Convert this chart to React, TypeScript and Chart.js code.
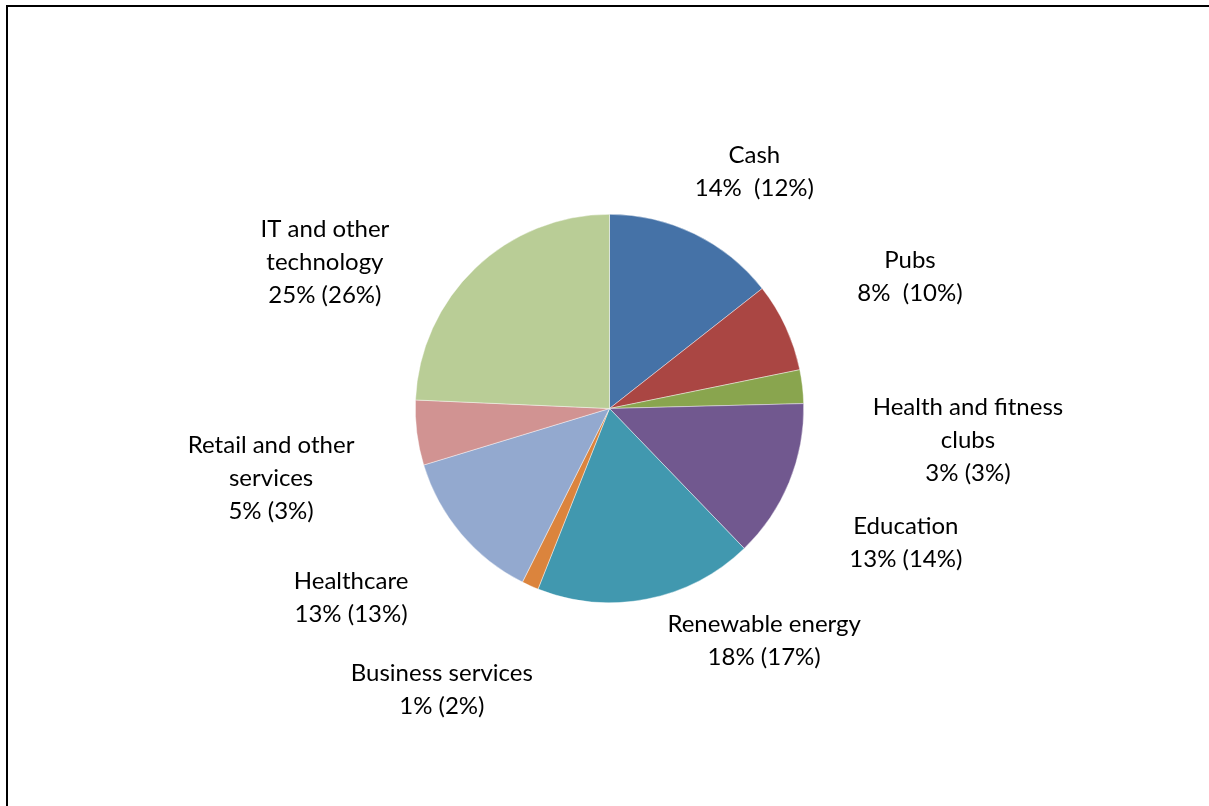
import React, { useEffect, useRef } from "react";
import { Chart, registerables } from "chart.js";

Chart.register(...registerables);

const categories: string[][] = [
  ["Cash"],
  ["Pubs"],
  ["Health and fitness", "clubs"],
  ["Education"],
  ["Renewable energy"],
  ["Business services"],
  ["Healthcare"],
  ["Retail and other", "services"],
  ["IT and other", "technology"],
];

const shareValues: number[] = [14.4, 7.4, 2.8, 13.2, 18.2, 1.4, 12.9, 5.4, 24.3];

const pctLabels: string[] = [
  "14%  (12%)",
  "8%  (10%)",
  "3% (3%)",
  "13% (14%)",
  "18% (17%)",
  "1% (2%)",
  "13% (13%)",
  "5% (3%)",
  "25% (26%)",
];

const sliceColors: string[] = [
  "#4572A7",
  "#AA4643",
  "#89A54E",
  "#71588F",
  "#4198AF",
  "#DB843D",
  "#93A9CF",
  "#D19392",
  "#B9CD96",
];

// label placement: [angle shift from slice mid-angle (deg), distance in radii]
const labelLayout: [number, number][] = [
  [5.5, 1.431],
  [1.2, 1.689],
  [11.5, 1.853],
  [2.1, 1.676],
  [-22.5, 1.437],
  [6.7, 1.685],
  [3.9, 1.65],
  [-4.4, 1.779],
  [-19.1, 1.647],
];

const FONT = '24px Lato, "Noto Sans", sans-serif';
const LINE_H = 33;

const labelPlugin = {
  id: "outsideLabels",
  afterDatasetsDraw(chart: any) {
    const ctx = chart.ctx;
    const meta = chart.getDatasetMeta(0);
    ctx.save();
    ctx.font = FONT;
    ctx.fillStyle = "#000";
    ctx.textAlign = "center";
    ctx.textBaseline = "middle";
    meta.data.forEach((arc: any, i: number) => {
      const p = arc.getProps(["x", "y", "startAngle", "endAngle", "outerRadius"], true);
      const [dDeg, k] = labelLayout[i];
      const a = (p.startAngle + p.endAngle) / 2 + (dDeg * Math.PI) / 180;
      const cx = p.x + Math.cos(a) * p.outerRadius * k;
      const cy = p.y + Math.sin(a) * p.outerRadius * k;
      const lines = [...categories[i], pctLabels[i]];
      const top = cy - ((lines.length - 1) * LINE_H) / 2;
      lines.forEach((t, j) => ctx.fillText(t, cx, top + j * LINE_H));
    });
    ctx.restore();
  },
};

export default function App() {
  const ref = useRef<HTMLCanvasElement | null>(null);
  useEffect(() => {
    if (!ref.current) return;
    const chart = new Chart(ref.current, {
      type: "pie",
      data: {
        labels: categories.map((c) => c.join(" ")),
        datasets: [
          {
            data: shareValues,
            backgroundColor: sliceColors,
            borderColor: "rgba(255,255,255,0.7)",
            borderWidth: 0.6,
            hoverOffset: 0,
          },
        ],
      },
      options: {
        responsive: false,
        animation: false,
        devicePixelRatio: 1,
        events: [],
        layout: { padding: { left: 415, right: 405, top: 214, bottom: 203 } },
        plugins: {
          legend: { display: false },
          tooltip: { enabled: false },
          title: { display: false },
        },
      },
      plugins: [labelPlugin],
    });
    return () => chart.destroy();
  }, []);
  return (
    <>
      <canvas
        ref={ref}
        width={1209}
        height={806}
        style={{ position: "fixed", left: 0, top: 0, width: 1209, height: 806 }}
      />
      <div
        style={{
          position: "fixed",
          left: 6,
          top: 5,
          width: 1300,
          height: 900,
          border: "2px solid #000",
          pointerEvents: "none",
        }}
      />
    </>
  );
}
